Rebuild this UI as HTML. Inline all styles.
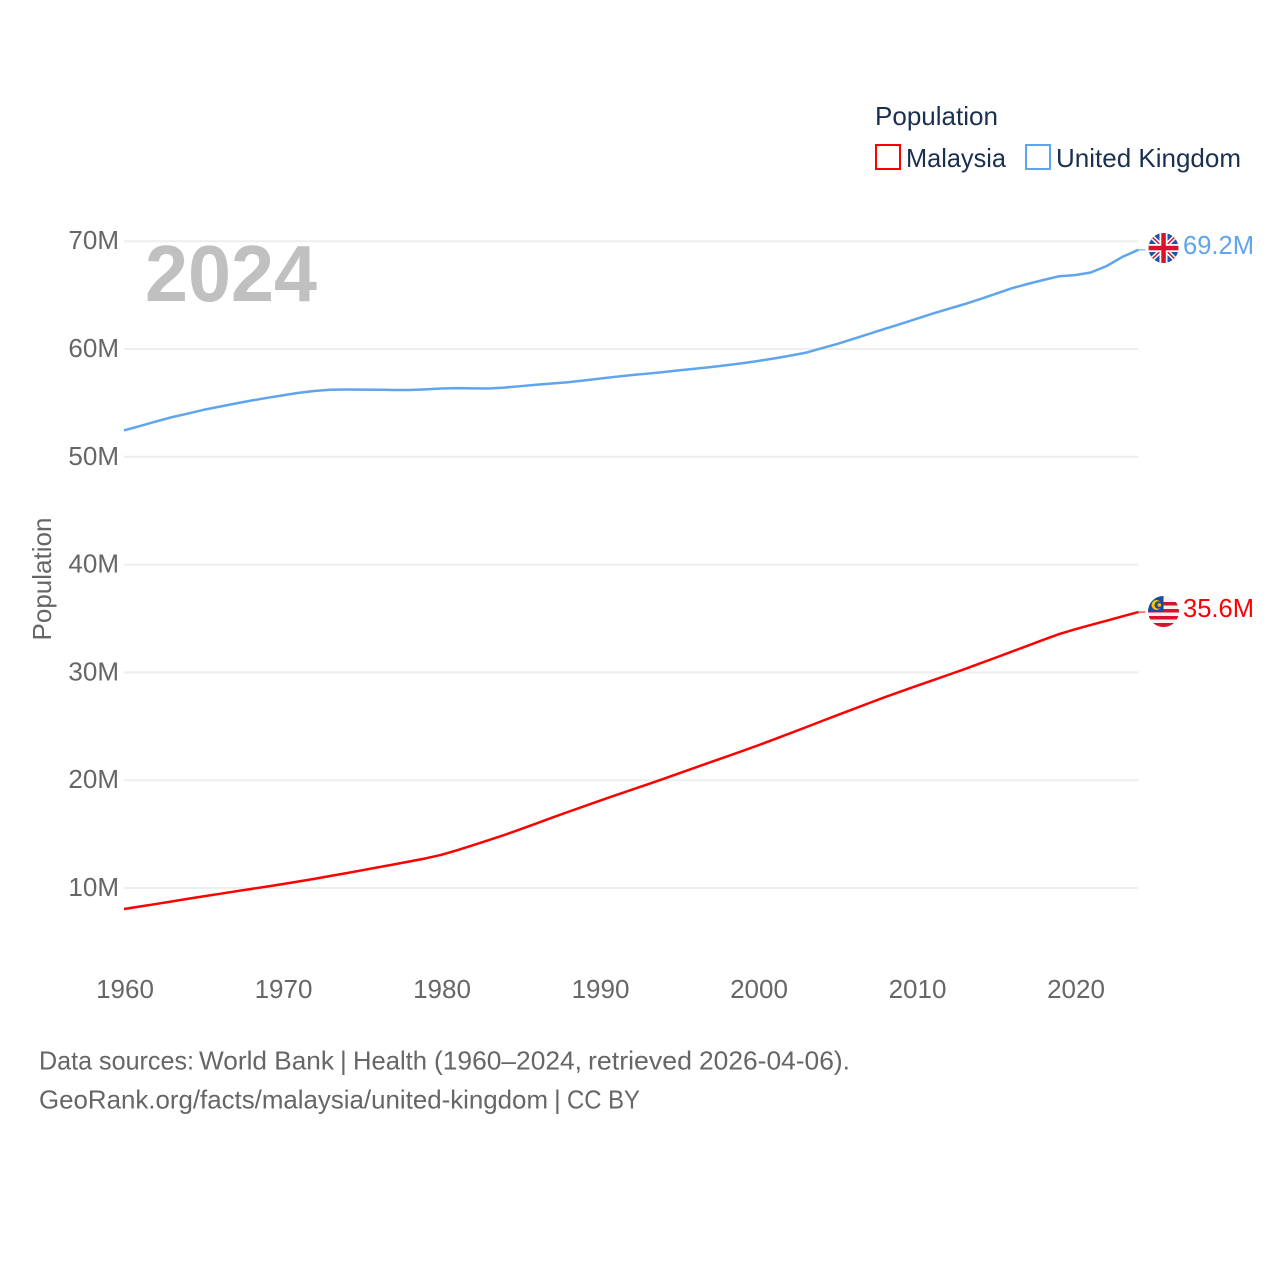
<!DOCTYPE html>
<html lang="en">
<head>
<meta charset="utf-8">
<title>Population: Malaysia and United Kingdom</title>
<style>
html,body{margin:0;padding:0;background:#fff;width:1280px;height:1280px;overflow:hidden}
svg{display:block}
text{font-family:"Liberation Sans",Arial,sans-serif}
</style>
</head>
<body>
<svg id="chart" xmlns="http://www.w3.org/2000/svg" width="1280" height="1280" viewBox="0 0 1280 1280">
  <defs>
    <clipPath id="clip-uk"><circle cx="1163.5" cy="248" r="15"/></clipPath>
    <clipPath id="clip-my"><circle cx="1163.5" cy="611.5" r="15.5"/></clipPath>
  </defs>
  <g id="grid"></g>
  <g id="x-axis"></g>
  <g id="y-axis"></g>
  <text x="145" y="301" font-size="80" font-weight="bold" fill="#c0c0c0" textLength="172" lengthAdjust="spacingAndGlyphs">2024</text>
  <text transform="translate(51,579) rotate(-90)" text-anchor="middle" font-size="26" fill="#666" textLength="123" lengthAdjust="spacingAndGlyphs">Population</text>
  <g id="series"></g>

  <g>
    <text x="875" y="125" font-size="26" fill="#1a3050" textLength="123" lengthAdjust="spacingAndGlyphs">Population</text>
    <rect x="876" y="145" width="24" height="24" fill="#fff" stroke="#ff0000" stroke-width="2"/>
    <text x="906" y="167" font-size="26" fill="#1a3050" textLength="100" lengthAdjust="spacingAndGlyphs">Malaysia</text>
    <rect x="1026" y="145" width="24" height="24" fill="#fff" stroke="#5ea5ee" stroke-width="2"/>
    <text x="1056" y="167" font-size="26" fill="#1a3050" textLength="185" lengthAdjust="spacingAndGlyphs">United Kingdom</text>
  </g>

  <g clip-path="url(#clip-uk)">
    <rect x="1148" y="233" width="31" height="30" fill="#1f55a8"/>
    <path d="M1148 233L1179 263M1179 233L1148 263" stroke="#fff" stroke-width="4.500"/>
    <path d="M1148 233L1179 263M1179 233L1148 263" stroke="#d8112f" stroke-width="1.500"/>
    <rect x="1159.500" y="233" width="8" height="30" fill="#fff"/>
    <rect x="1148" y="244" width="31" height="8" fill="#fff"/>
    <rect x="1161.300" y="233" width="4.500" height="30" fill="#d8112f"/>
    <rect x="1148" y="245.800" width="31" height="4.500" fill="#d8112f"/>
  </g>
  <g clip-path="url(#clip-my)">
    <rect x="1148" y="596" width="31" height="32" fill="#f2f2f2"/>
    <rect x="1148" y="602" width="31" height="3.500" fill="#d8112f"/>
    <rect x="1148" y="609" width="31" height="3.500" fill="#d8112f"/>
    <rect x="1148" y="616" width="31" height="3.500" fill="#d8112f"/>
    <rect x="1148" y="623" width="31" height="5" fill="#d8112f"/>
    <rect x="1148" y="596" width="15.500" height="16" fill="#1d4a9c"/>
    <circle cx="1156.500" cy="605" r="5" fill="#f7c600"/>
    <circle cx="1158.300" cy="605" r="3.800" fill="#1d4a9c"/>
    <circle cx="1159.300" cy="605" r="1.800" fill="#f7c600"/>
  </g>

  <text x="1183" y="254" font-size="26" fill="#5ea5ee" textLength="71" lengthAdjust="spacingAndGlyphs">69.2M</text>
  <text x="1183" y="617" font-size="26" fill="#ff0000" textLength="71" lengthAdjust="spacingAndGlyphs">35.6M</text>

  <text y="1069.5" font-size="26" fill="#666"><tspan x="39" textLength="155" lengthAdjust="spacingAndGlyphs">Data sources:</tspan> <tspan x="199" textLength="135" lengthAdjust="spacingAndGlyphs">World Bank</tspan> <tspan x="340">|</tspan> <tspan x="353" textLength="74" lengthAdjust="spacingAndGlyphs">Health</tspan> <tspan x="434" textLength="148" lengthAdjust="spacingAndGlyphs">(1960–2024,</tspan> <tspan x="588" textLength="104" lengthAdjust="spacingAndGlyphs">retrieved</tspan> <tspan x="699" textLength="151" lengthAdjust="spacingAndGlyphs">2026-04-06).</tspan></text>
  <text y="1108.5" font-size="26" fill="#666"><tspan x="39" textLength="509" lengthAdjust="spacingAndGlyphs">GeoRank.org/facts/malaysia/united-kingdom</tspan> <tspan x="554">|</tspan> <tspan x="567" textLength="73" lengthAdjust="spacingAndGlyphs">CC BY</tspan></text>
</svg>
<script>
const firstYear = 1960;
const xTickYears = [1960, 1970, 1980, 1990, 2000, 2010, 2020];
const yTickValues = [10, 20, 30, 40, 50, 60, 70];
const malaysiaValues = [
  8.05, 8.28, 8.51, 8.75, 8.99, 9.22, 9.45, 9.68, 9.91, 10.13,
  10.36, 10.60, 10.85, 11.11, 11.37, 11.64, 11.91, 12.18, 12.46, 12.74,
  13.07, 13.50, 13.96, 14.43, 14.92, 15.44, 15.98, 16.52, 17.05, 17.57,
  18.09, 18.60, 19.10, 19.60, 20.11, 20.63, 21.15, 21.67, 22.18, 22.70,
  23.23, 23.78, 24.34, 24.90, 25.47, 26.03, 26.59, 27.15, 27.70, 28.22,
  28.74, 29.25, 29.77, 30.29, 30.83, 31.37, 31.92, 32.47, 33.02, 33.56,
  34.00, 34.40, 34.80, 35.20, 35.60
];
const unitedKingdomValues = [
  52.45, 52.85, 53.27, 53.67, 54.00, 54.35, 54.64, 54.93, 55.21, 55.46,
  55.70, 55.93, 56.10, 56.22, 56.24, 56.23, 56.22, 56.20, 56.20, 56.26,
  56.33, 56.37, 56.35, 56.34, 56.42, 56.55, 56.68, 56.80, 56.92, 57.08,
  57.25, 57.42, 57.58, 57.71, 57.86, 58.02, 58.17, 58.32, 58.49, 58.68,
  58.89, 59.12, 59.37, 59.65, 60.06, 60.47, 60.93, 61.40, 61.87, 62.32,
  62.80, 63.28, 63.72, 64.15, 64.62, 65.12, 65.63, 66.03, 66.40, 66.75,
  66.85, 67.10, 67.70, 68.55, 69.20
];

const svgNS = 'http://www.w3.org/2000/svg';
const xScale = function (year) { return 124 + (year - 1960) * 15.85; };
const yScale = function (value) { return 995.8 - value * 10.78; };

const gridGroup = document.getElementById('grid');
const yAxisGroup = document.getElementById('y-axis');
const xAxisGroup = document.getElementById('x-axis');
const seriesGroup = document.getElementById('series');

yTickValues.forEach(function (value) {
  const line = document.createElementNS(svgNS, 'line');
  
  
  line.setAttribute('x1', 124);
  line.setAttribute('x2', 1138.5);
  line.setAttribute('y1', yScale(value));
  line.setAttribute('y2', yScale(value));
  line.setAttribute('stroke', '#eeeeee');
  line.setAttribute('stroke-width', 2);
  gridGroup.appendChild(line);

  const label = document.createElementNS(svgNS, 'text');
  
  
  label.setAttribute('x', 119);
  label.setAttribute('y', yScale(value) + 8);
  label.setAttribute('text-anchor', 'end');
  label.setAttribute('font-size', 26);
  label.setAttribute('fill', '#666');
  label.textContent = value + 'M';
  yAxisGroup.appendChild(label);
});

xTickYears.forEach(function (year) {
  const label = document.createElementNS(svgNS, 'text');
  
  
  label.setAttribute('x', xScale(year) + 1);
  label.setAttribute('y', 998);
  label.setAttribute('text-anchor', 'middle');
  label.setAttribute('font-size', 26);
  label.setAttribute('fill', '#666');
  label.textContent = String(year);
  xAxisGroup.appendChild(label);
});

function drawSeries(values, color, lineName, connectorName) {
  const pts = values.map(function (value, i) {
    return xScale(firstYear + i).toFixed(2) + ',' + yScale(value).toFixed(2);
  });
  const path = document.createElementNS(svgNS, 'polyline');
  
  
  path.setAttribute('points', pts.join(' '));
  path.setAttribute('fill', 'none');
  path.setAttribute('stroke', color);
  path.setAttribute('stroke-width', 2.5);
  path.setAttribute('stroke-linejoin', 'round');
  seriesGroup.appendChild(path);

  const last = values[values.length - 1];
  const lastYear = firstYear + values.length - 1;
  const connector = document.createElementNS(svgNS, 'line');
  
  
  connector.setAttribute('x1', xScale(lastYear));
  connector.setAttribute('x2', xScale(lastYear) + 7);
  connector.setAttribute('y1', yScale(last));
  connector.setAttribute('y2', yScale(last));
  connector.setAttribute('stroke', color);
  connector.setAttribute('stroke-width', 1);
  seriesGroup.appendChild(connector);
}

drawSeries(unitedKingdomValues, '#5ea5ee', 'line-united-kingdom', 'connector-united-kingdom');
drawSeries(malaysiaValues, '#ff0000', 'line-malaysia', 'connector-malaysia');
</script>
</body>
</html>
